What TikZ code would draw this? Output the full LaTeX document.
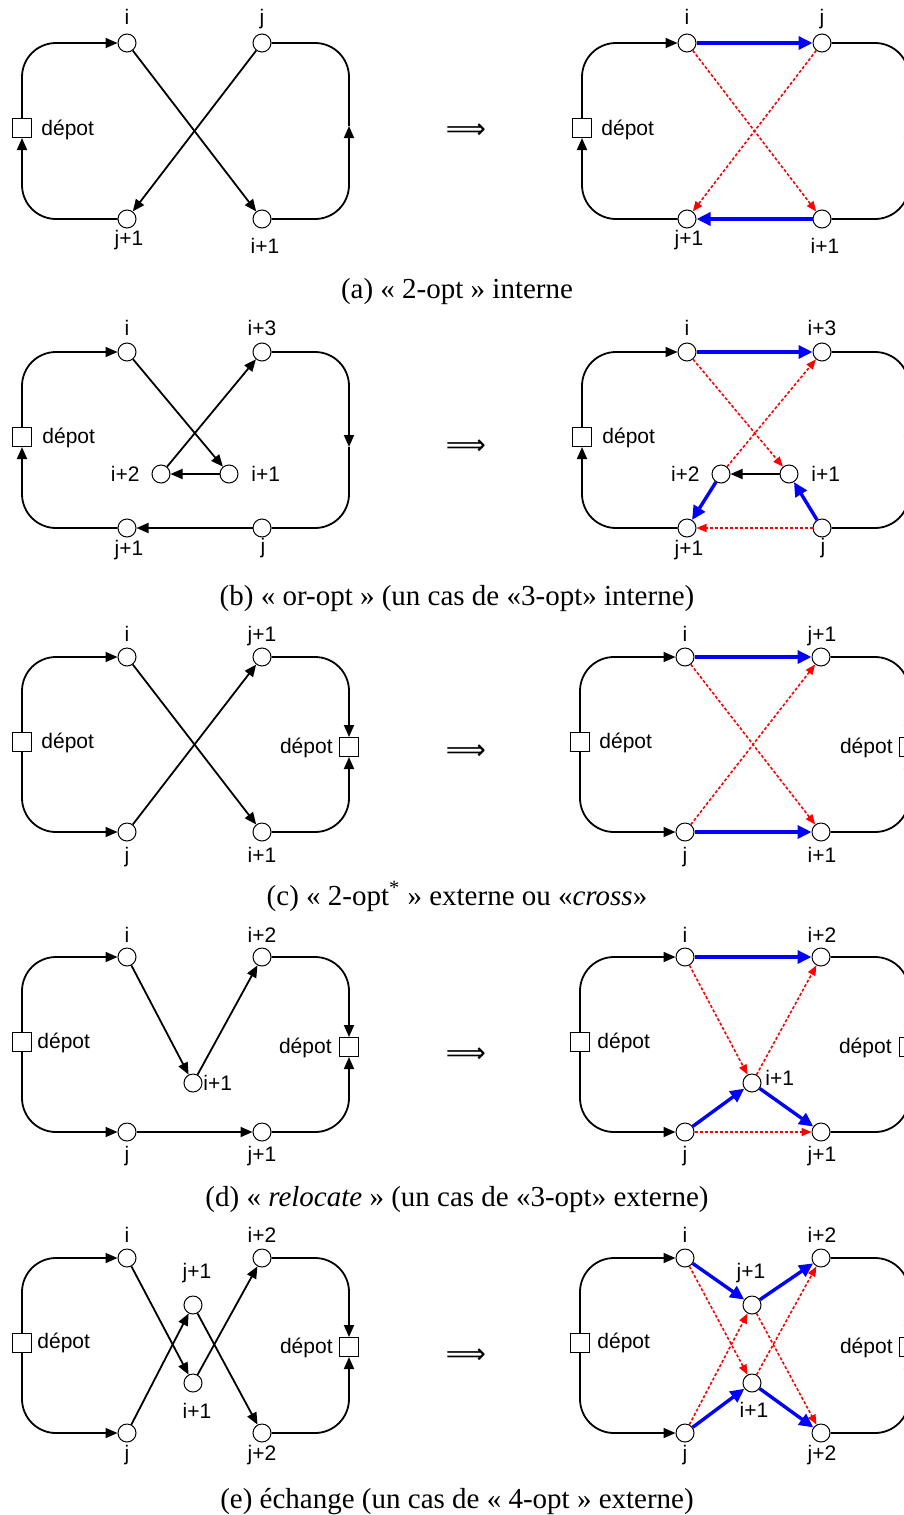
\documentclass[tikz,border=0pt]{standalone}
\usepackage{fontspec}
\setmainfont{Liberation Serif}
\setsansfont{Liberation Sans}
\newfontfamily\fleches{DejaVu Sans}
\usetikzlibrary{arrows.meta}

\begin{document}
\begin{tikzpicture}[x=0.5pt, y=-0.5pt]
% Stili
\tikzstyle{noeud} = [circle, draw, fill=white, line width=0.5pt, minimum size=9pt, inner sep=0pt]
\tikzstyle{depot} = [rectangle, draw, fill=white, line width=0.5pt, minimum size=9.5pt, inner sep=0pt]
\tikzstyle{etiq} = [font=\sffamily\fontsize{10.5}{12}\selectfont, inner sep=0pt, anchor=base]
\tikzstyle{legende} = [font=\rmfamily\fontsize{14.5}{17}\selectfont, inner sep=0pt, anchor=base]
\tikzstyle{implique} = [font=\fleches\fontsize{14}{16}\selectfont, inner sep=0pt]
\tikzstyle{fleche} = [-{Triangle[length=6pt, width=5pt]}]
\tikzstyle{tour} = [line width=0.9pt, rounded corners=17pt]
\tikzstyle{lien} = [line width=0.9pt, fleche]
\tikzstyle{ajout} = [blue, line width=1.7pt, -{Triangle[length=7pt, width=6.5pt]}]
\tikzstyle{retrait} = [red, line width=0.8pt, dash pattern=on 1.5pt off 1pt, -{Triangle[length=5pt, width=4pt]}]

\useasboundingbox (0,0) rectangle (904,1515);
\fill[white] (0,0) rectangle (904,1515);
\clip (0,0) rectangle (904,1515);

% ---------------- (a) ----------------
\node[noeud] (ai) at (127,43) {};
\node[noeud] (aj) at (262,43) {};
\node[noeud] (aj1) at (127,219) {};
\node[noeud] (ai1) at (262,219) {};
\node[depot] (adep) at (22,128) {};
\coordinate (ard) at (349,126);
\node[etiq] (ai-l) at (127,25) {i};
\node[etiq] (aj-l) at (262,25) {j};
\node[etiq] (aj1-l) at (129,245) {j+1};
\node[etiq] (ai1-l) at (265,253) {i+1};
\node[etiq, anchor=base west] (adep-l) at (41,135) {dépot};

\draw[tour, fleche] (adep.north) |- (ai);
\draw[tour, fleche] (aj1) -| (adep.south);
\draw[tour, fleche] (ai1) -| (ard);
\draw[tour] (ard) |- (aj);
\draw[lien] (ai) -- (ai1);
\draw[lien] (aj) -- (aj1);

\node[implique] (afl) at (466,131) {⟹};

\node[noeud] (Ai) at (687,43) {};
\node[noeud] (Aj) at (822,43) {};
\node[noeud] (Aj1) at (687,219) {};
\node[noeud] (Ai1) at (822,219) {};
\node[depot] (Adep) at (582,128) {};
\coordinate (Ard) at (909,126);
\node[etiq] (Ai-l) at (687,25) {i};
\node[etiq] (Aj-l) at (822,25) {j};
\node[etiq] (Aj1-l) at (689,245) {j+1};
\node[etiq] (Ai1-l) at (825,253) {i+1};
\node[etiq, anchor=base west] (Adep-l) at (601,135) {dépot};

\draw[tour, fleche] (Adep.north) |- (Ai);
\draw[tour, fleche] (Aj1) -| (Adep.south);
\draw[tour, fleche] (Ai1) -| (Ard);
\draw[tour] (Ard) |- (Aj);
\draw[retrait] (Ai) -- (Ai1);
\draw[retrait] (Aj) -- (Aj1);
\draw[ajout] (Ai) -- (Aj);
\draw[ajout] (Ai1) -- (Aj1);

\node[legende] (acap) at (457,298) {(a) « 2-opt » interne};

% ---------------- (b) ----------------
\node[noeud] (bi) at (127,352) {};
\node[noeud] (bi3) at (262,352) {};
\node[noeud] (bj1) at (127,528) {};
\node[noeud] (bj) at (262,528) {};
\node[noeud] (bi2) at (161,474) {};
\node[noeud] (bi1) at (229,474) {};
\node[depot] (bdep) at (22,437) {};
\coordinate (brd) at (349,447);
\node[etiq] (bi-l) at (127,335) {i};
\node[etiq] (bi3-l) at (262,335) {i+3};
\node[etiq, anchor=base east] (bi2-l) at (140,481) {i+2};
\node[etiq, anchor=base west] (bi1-l) at (251,481) {i+1};
\node[etiq] (bj1-l) at (129,555) {j+1};
\node[etiq] (bj-l) at (263,553) {j};
\node[etiq, anchor=base west] (bdep-l) at (42,443) {dépot};

\draw[tour, fleche] (bdep.north) |- (bi);
\draw[tour, fleche] (bj1) -| (bdep.south);
\draw[tour, fleche] (bi3) -| (brd);
\draw[tour] (brd) |- (bj);
\draw[lien] (bi) -- (bi1);
\draw[lien] (bi1) -- (bi2);
\draw[lien] (bi2) -- (bi3);
\draw[lien] (bj) -- (bj1);

\node[implique] (bfl) at (466,447) {⟹};

\node[noeud] (Bi) at (687,352) {};
\node[noeud] (Bi3) at (822,352) {};
\node[noeud] (Bj1) at (687,528) {};
\node[noeud] (Bj) at (822,528) {};
\node[noeud] (Bi2) at (721,474) {};
\node[noeud] (Bi1) at (789,474) {};
\node[depot] (Bdep) at (582,437) {};
\coordinate (Brd) at (909,447);
\node[etiq] (Bi-l) at (687,335) {i};
\node[etiq] (Bi3-l) at (822,335) {i+3};
\node[etiq, anchor=base east] (Bi2-l) at (700,481) {i+2};
\node[etiq, anchor=base west] (Bi1-l) at (811,481) {i+1};
\node[etiq] (Bj1-l) at (689,555) {j+1};
\node[etiq] (Bj-l) at (823,553) {j};
\node[etiq, anchor=base west] (Bdep-l) at (602,443) {dépot};

\draw[tour, fleche] (Bdep.north) |- (Bi);
\draw[tour, fleche] (Bj1) -| (Bdep.south);
\draw[tour, fleche] (Bi3) -| (Brd);
\draw[tour] (Brd) |- (Bj);
\draw[retrait] (Bi) -- (Bi1);
\draw[retrait] (Bi2) -- (Bi3);
\draw[retrait] (Bj) -- (Bj1);
\draw[lien] (Bi1) -- (Bi2);
\draw[ajout] (Bi) -- (Bi3);
\draw[ajout] (Bi2) -- (Bj1);
\draw[ajout] (Bj) -- (Bi1);

\node[legende] (bcap) at (457,605) {(b) « or-opt » (un cas de «3-opt» interne)};

% ---------------- (c) ----------------
\node[noeud] (ci) at (127,657) {};
\node[noeud] (cj1) at (262,657) {};
\node[noeud] (cj) at (127,832) {};
\node[noeud] (ci1) at (262,832) {};
\node[depot] (cdepg) at (22,742) {};
\node[depot] (cdepd) at (349,747) {};
\node[etiq] (ci-l) at (127,641) {i};
\node[etiq] (cj1-l) at (262,641) {j+1};
\node[etiq] (cj-l) at (127,862) {j};
\node[etiq] (ci1-l) at (262,862) {i+1};
\node[etiq, anchor=base west] (cdepg-l) at (41,748) {dépot};
\node[etiq, anchor=base east] (cdepd-l) at (333,753) {dépot};

\draw[tour, fleche] (cdepg.north) |- (ci);
\draw[tour, fleche] (cdepg.south) |- (cj);
\draw[tour, fleche] (cj1) -| (cdepd.north);
\draw[tour, fleche] (ci1) -| (cdepd.south);
\draw[lien] (ci) -- (ci1);
\draw[lien] (cj) -- (cj1);

\node[implique] (cfl) at (466,752) {⟹};

\node[noeud] (Ci) at (685,657) {};
\node[noeud] (Cj1) at (821,657) {};
\node[noeud] (Cj) at (685,832) {};
\node[noeud] (Ci1) at (821,832) {};
\node[depot] (Cdepg) at (580,742) {};
\node[depot] (Cdepd) at (909,747) {};
\node[etiq] (Ci-l) at (685,641) {i};
\node[etiq] (Cj1-l) at (822,641) {j+1};
\node[etiq] (Cj-l) at (685,862) {j};
\node[etiq] (Ci1-l) at (822,862) {i+1};
\node[etiq, anchor=base west] (Cdepg-l) at (599,748) {dépot};
\node[etiq, anchor=base east] (Cdepd-l) at (893,753) {dépot};

\draw[tour, fleche] (Cdepg.north) |- (Ci);
\draw[tour, fleche] (Cdepg.south) |- (Cj);
\draw[tour, fleche] (Cj1) -| (Cdepd.north);
\draw[tour, fleche] (Ci1) -| (Cdepd.south);
\draw[retrait] (Ci) -- (Ci1);
\draw[retrait] (Cj) -- (Cj1);
\draw[ajout] (Ci) -- (Cj1);
\draw[ajout] (Cj) -- (Ci1);

\node[legende] (ccap) at (457,905) {(c) « 2-opt\textsuperscript{*} » externe ou «\textit{cross}»};

% ---------------- (d) ----------------
\node[noeud] (di) at (127,957) {};
\node[noeud] (di2) at (262,957) {};
\node[noeud] (dj) at (127,1132) {};
\node[noeud] (dj1) at (262,1132) {};
\node[noeud] (di1) at (193,1083) {};
\node[depot] (ddepg) at (22,1042) {};
\node[depot] (ddepd) at (349,1047) {};
\node[etiq] (di-l) at (127,942) {i};
\node[etiq] (di2-l) at (262,942) {i+2};
\node[etiq] (dj-l) at (127,1161) {j};
\node[etiq] (dj1-l) at (262,1161) {j+1};
\node[etiq, anchor=base west] (di1-l) at (203,1090) {i+1};
\node[etiq, anchor=base west] (ddepg-l) at (37,1048) {dépot};
\node[etiq, anchor=base east] (ddepd-l) at (332,1053) {dépot};

\draw[tour, fleche] (ddepg.north) |- (di);
\draw[tour, fleche] (ddepg.south) |- (dj);
\draw[tour, fleche] (di2) -| (ddepd.north);
\draw[tour, fleche] (dj1) -| (ddepd.south);
\draw[lien] (di) -- (di1);
\draw[lien] (di1) -- (di2);
\draw[lien] (dj) -- (dj1);

\node[implique] (dfl) at (466,1055) {⟹};

\node[noeud] (Di) at (685,957) {};
\node[noeud] (Di2) at (821,957) {};
\node[noeud] (Dj) at (685,1132) {};
\node[noeud] (Dj1) at (821,1132) {};
\node[noeud] (Di1) at (752,1083) {};
\node[depot] (Ddepg) at (580,1042) {};
\node[depot] (Ddepd) at (909,1047) {};
\node[etiq] (Di-l) at (685,942) {i};
\node[etiq] (Di2-l) at (822,942) {i+2};
\node[etiq] (Dj-l) at (685,1161) {j};
\node[etiq] (Dj1-l) at (822,1161) {j+1};
\node[etiq, anchor=base west] (Di1-l) at (765,1085) {i+1};
\node[etiq, anchor=base west] (Ddepg-l) at (597,1048) {dépot};
\node[etiq, anchor=base east] (Ddepd-l) at (892,1053) {dépot};

\draw[tour, fleche] (Ddepg.north) |- (Di);
\draw[tour, fleche] (Ddepg.south) |- (Dj);
\draw[tour, fleche] (Di2) -| (Ddepd.north);
\draw[tour, fleche] (Dj1) -| (Ddepd.south);
\draw[retrait] (Di) -- (Di1);
\draw[retrait] (Di1) -- (Di2);
\draw[retrait] (Dj) -- (Dj1);
\draw[ajout] (Di) -- (Di2);
\draw[ajout] (Dj) -- (Di1);
\draw[ajout] (Di1) -- (Dj1);

\node[legende] (dcap) at (457,1206) {(d) « \textit{relocate} » (un cas de «3-opt» externe)};

% ---------------- (e) ----------------
\node[noeud] (ei) at (127,1258) {};
\node[noeud] (ei2) at (262,1258) {};
\node[noeud] (ej) at (127,1433) {};
\node[noeud] (ej2) at (262,1433) {};
\node[noeud] (ej1) at (193,1305) {};
\node[noeud] (ei1) at (193,1383) {};
\node[depot] (edepg) at (22,1343) {};
\node[depot] (edepd) at (349,1347) {};
\node[etiq] (ei-l) at (127,1242) {i};
\node[etiq] (ei2-l) at (262,1242) {i+2};
\node[etiq] (ej-l) at (127,1460) {j};
\node[etiq] (ej2-l) at (262,1460) {j+2};
\node[etiq] (ej1-l) at (197,1278) {j+1};
\node[etiq] (ei1-l) at (197,1418) {i+1};
\node[etiq, anchor=base west] (edepg-l) at (37,1348) {dépot};
\node[etiq, anchor=base east] (edepd-l) at (333,1353) {dépot};

\draw[tour, fleche] (edepg.north) |- (ei);
\draw[tour, fleche] (edepg.south) |- (ej);
\draw[tour, fleche] (ei2) -| (edepd.north);
\draw[tour, fleche] (ej2) -| (edepd.south);
\draw[lien] (ei) -- (ei1);
\draw[lien] (ei1) -- (ei2);
\draw[lien] (ej) -- (ej1);
\draw[lien] (ej1) -- (ej2);

\node[implique] (efl) at (466,1356) {⟹};

\node[noeud] (Ei) at (685,1258) {};
\node[noeud] (Ei2) at (821,1258) {};
\node[noeud] (Ej) at (685,1433) {};
\node[noeud] (Ej2) at (821,1433) {};
\node[noeud] (Ej1) at (752,1305) {};
\node[noeud] (Ei1) at (752,1383) {};
\node[depot] (Edepg) at (580,1343) {};
\node[depot] (Edepd) at (909,1347) {};
\node[etiq] (Ei-l) at (685,1242) {i};
\node[etiq] (Ei2-l) at (822,1242) {i+2};
\node[etiq] (Ej-l) at (685,1460) {j};
\node[etiq] (Ej2-l) at (822,1460) {j+2};
\node[etiq] (Ej1-l) at (751,1278) {j+1};
\node[etiq] (Ei1-l) at (754,1417) {i+1};
\node[etiq, anchor=base west] (Edepg-l) at (597,1348) {dépot};
\node[etiq, anchor=base east] (Edepd-l) at (893,1353) {dépot};

\draw[tour, fleche] (Edepg.north) |- (Ei);
\draw[tour, fleche] (Edepg.south) |- (Ej);
\draw[tour, fleche] (Ei2) -| (Edepd.north);
\draw[tour, fleche] (Ej2) -| (Edepd.south);
\draw[retrait] (Ei) -- (Ei1);
\draw[retrait] (Ei1) -- (Ei2);
\draw[retrait] (Ej) -- (Ej1);
\draw[retrait] (Ej1) -- (Ej2);
\draw[ajout] (Ei) -- (Ej1);
\draw[ajout] (Ej1) -- (Ei2);
\draw[ajout] (Ej) -- (Ei1);
\draw[ajout] (Ei1) -- (Ej2);

\node[legende] (ecap) at (457,1508) {(e) échange (un cas de « 4-opt » externe)};

\end{tikzpicture}
\end{document}
